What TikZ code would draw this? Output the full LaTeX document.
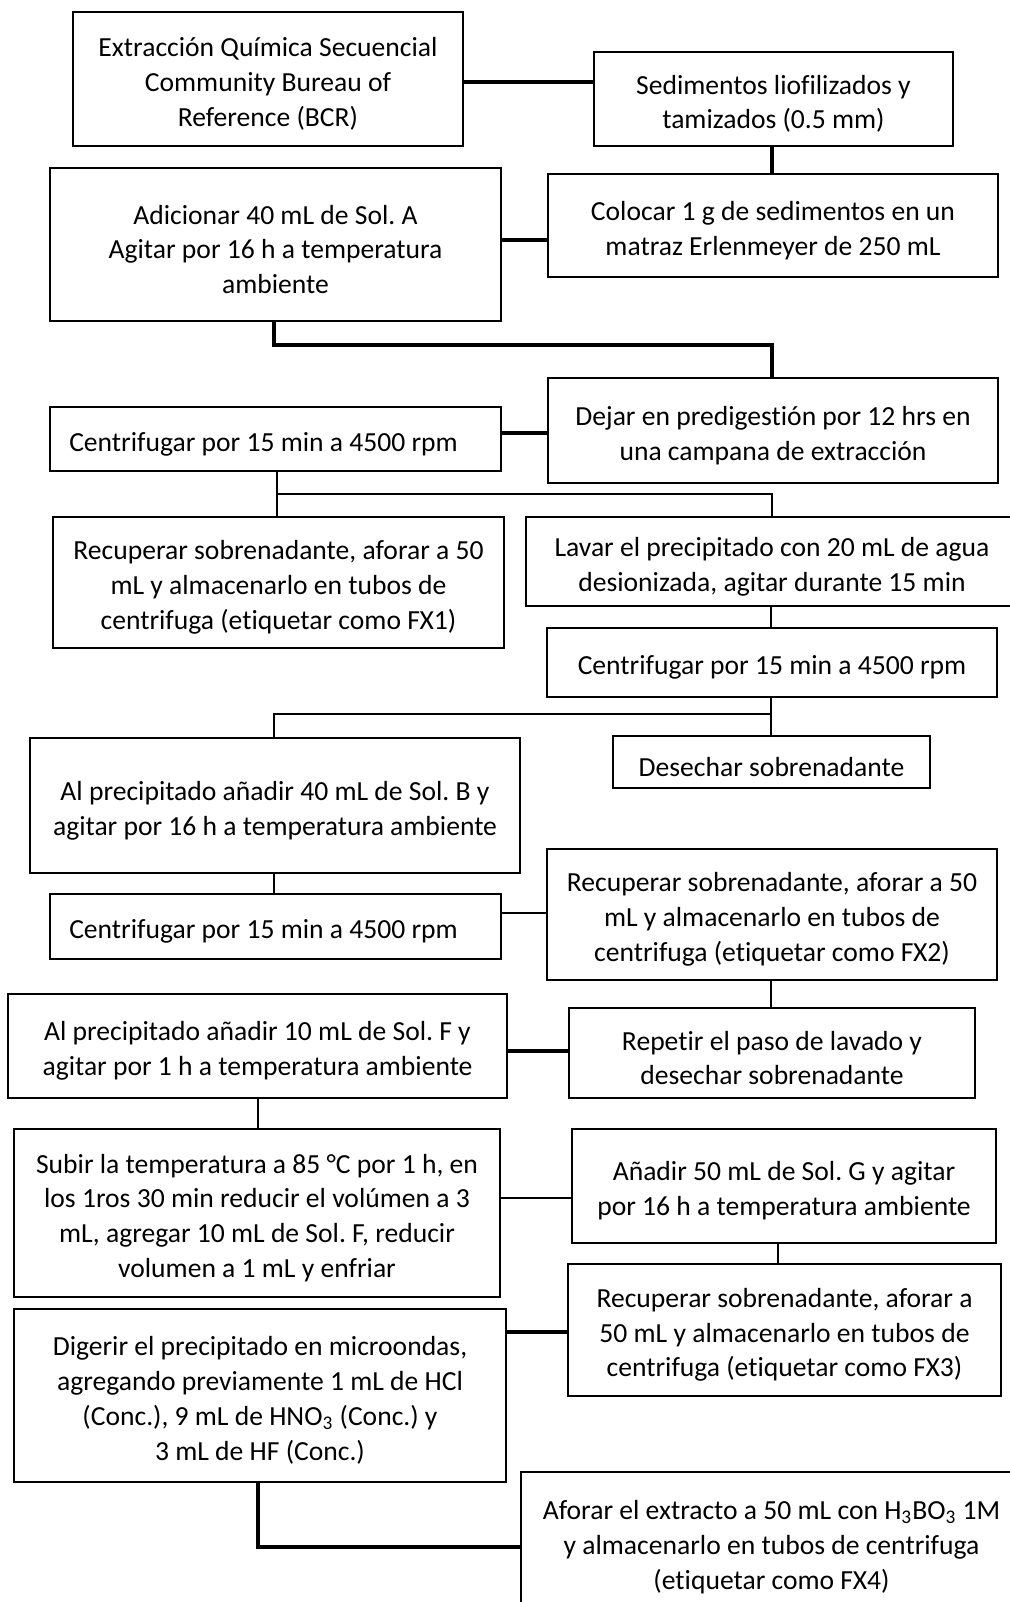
\documentclass[tikz,border=0pt]{standalone}
\usepackage{fontspec}
\setmainfont{Carlito}[Ligatures=NoCommon]
\usepackage{tikz}
\usetikzlibrary{positioning}

\tikzset{
  paso/.style={draw,line width=1.1pt,rectangle,inner sep=0pt,align=center,
    font=\fontsize{13.8}{17.4}\selectfont\frenchspacing},
  fino/.style={line width=1pt},
  grueso/.style={line width=1.6pt}
}
% caja: nombre, izq, arriba, der, abajo, texto (en pixeles)
\newcommand{\caja}[6]{%
  \pgfmathsetmacro{\cajx}{(#2+#4)/2}\pgfmathsetmacro{\cajy}{(#3+#5)/2}%
  \pgfmathsetmacro{\cajw}{(#4-#2)/2}\pgfmathsetmacro{\cajh}{(#5-#3)/2}%
  \node[paso,minimum width=\cajw pt,minimum height=\cajh pt] (#1) at (\cajx,\cajy)
    {\rule{0pt}{14.5pt}#6};}

\begin{document}
\begin{tikzpicture}[x=0.5pt,y=-0.5pt]
\useasboundingbox[fill=white] (0,0) rectangle (1010,1602);
\clip (0,0) rectangle (1010,1602);

\caja{extr}{73}{12}{463}{146}{Extracción Química Secuencial\\Community Bureau of\\Reference (BCR)}
\caja{sedim}{594}{52}{953}{146}{Sedimentos liofilizados y\\tamizados (0.5 mm)}
\caja{adic}{50}{168}{501}{321}{Adicionar 40 mL de Sol. A\\Agitar por 16 h a temperatura\\ambiente}
\caja{coloc}{548}{174}{998}{277}{Colocar 1 g de sedimentos en un\\matraz Erlenmeyer de 250 mL}
\caja{dejar}{548}{378}{998}{483}{Dejar en predigestión por 12 hrs en\\una campana de extracción}
\caja{centA}{50}{407}{501}{471}{Centrifugar por 15 min a 4500 rpm\hspace*{12pt}}
\caja{recFXa}{53}{517}{504}{648}{Recuperar sobrenadante, aforar a 50\\mL y almacenarlo en tubos de\\centrifuga (etiquetar como FX1)}
\caja{lavar}{526}{517}{1018}{606}{Lavar el precipitado con 20 mL de agua\\desionizada, agitar durante 15 min}
\caja{centB}{547}{628}{997}{697}{Centrifugar por 15 min a 4500 rpm}
\caja{precB}{30}{738}{520}{873}{Al precipitado añadir 40 mL de Sol. B y\\agitar por 16 h a temperatura ambiente}
\caja{desech}{613}{736}{930}{788}{Desechar sobrenadante}
\caja{centC}{50}{894}{501}{959}{Centrifugar por 15 min a 4500 rpm\hspace*{12pt}}
\caja{recFXb}{547}{849}{997}{980}{Recuperar sobrenadante, aforar a 50\\mL y almacenarlo en tubos de\\centrifuga (etiquetar como FX2)}
\caja{repet}{569}{1008}{975}{1098}{Repetir el paso de lavado y\\desechar sobrenadante}
\caja{precF}{8}{994}{507}{1098}{Al precipitado añadir 10 mL de Sol. F y\\agitar por 1 h a temperatura ambiente}
\caja{subir}{14}{1129}{500}{1297}{Subir la temperatura a 85 °C por 1 h, en\\los 1ros 30 min reducir el volúmen a 3\\mL, agregar 10 mL de Sol. F, reducir\\volumen a 1 mL y enfriar}
\caja{anadG}{572}{1129}{996}{1243}{Añadir 50 mL de Sol. G y agitar\\por 16 h a temperatura ambiente}
\caja{recFXc}{568}{1264}{1001}{1396}{Recuperar sobrenadante, aforar a\\50 mL y almacenarlo en tubos de\\centrifuga (etiquetar como FX3)}
\caja{diger}{14}{1309}{506}{1482}{Digerir el precipitado en microondas,\\agregando previamente 1 mL de HCl\\(Conc.), 9 mL de HNO\textsubscript{3} (Conc.) y\\3 mL de HF (Conc.)}
\caja{aforar}{521}{1472}{1022}{1612}{Aforar el extracto a 50 mL con H\textsubscript{3}BO\textsubscript{3} 1M\\y almacenarlo en tubos de centrifuga\\(etiquetar como FX4)}

% conectores
\draw[grueso] (extr.east |- 0,82) -- (sedim.west |- 0,82);
\draw[grueso] (sedim.south -| 772,0) -- (coloc.north -| 772,0);
\draw[grueso] (adic.east |- 0,240) -- (coloc.west |- 0,240);
\draw[grueso] (adic.south -| 274,0) -- (274,345) -| (dejar.north -| 772,0);
\draw[grueso] (centA.east |- 0,433) -- (dejar.west |- 0,433);
\draw[fino] (centA.south -| 277,0) -- (recFXa.north -| 277,0);
\coordinate (ramaA) at (277,494);
\draw[fino] (ramaA) -| (lavar.north -| 772,0);
\draw[fino] (lavar.south -| 771,0) -- (centB.north -| 771,0);
\draw[fino] (centB.south -| 771,0) -- (desech.north -| 771,0);
\coordinate (ramaB) at (771,714);
\draw[fino] (ramaB) -| (precB.north -| 274,0);
\draw[fino] (precB.south -| 274,0) -- (centC.north -| 274,0);
\draw[fino] (centC.east |- 0,913) -- (recFXb.west |- 0,913);
\draw[fino] (recFXb.south -| 771,0) -- (repet.north -| 771,0);
\draw[grueso] (precF.east |- 0,1051) -- (repet.west |- 0,1051);
\draw[fino] (precF.south -| 258,0) -- (subir.north -| 258,0);
\draw[fino] (subir.east |- 0,1198) -- (anadG.west |- 0,1198);
\draw[fino] (anadG.south -| 778,0) -- (recFXc.north -| 778,0);
\draw[grueso] (diger.east |- 0,1332) -- (recFXc.west |- 0,1332);
\draw[grueso] (diger.south -| 258,0) |- (aforar.west |- 0,1547);
\end{tikzpicture}
\end{document}
